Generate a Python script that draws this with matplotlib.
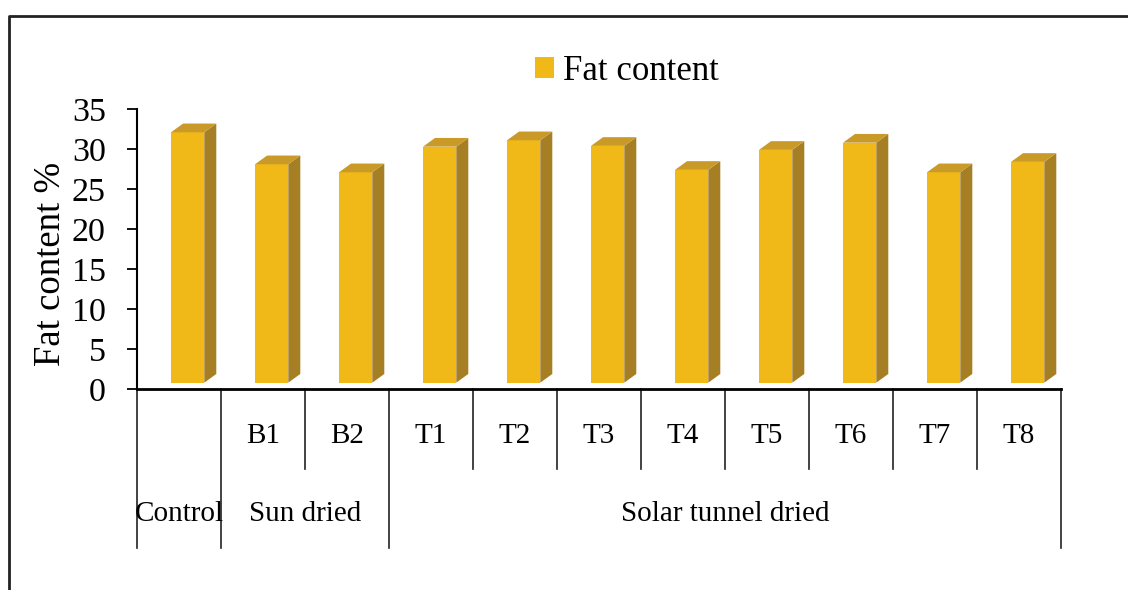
import numpy as np
import matplotlib.pyplot as plt
from matplotlib.patches import Polygon, Patch
from matplotlib.lines import Line2D

# fat content (%) per treatment
treatments = ['Control', 'B1', 'B2', 'T1', 'T2', 'T3', 'T4', 'T5', 'T6', 'T7', 'T8']
fat = [31.3, 27.3, 26.3, 29.5, 30.3, 29.6, 26.6, 29.1, 30.0, 26.3, 27.6]

# second row of the category axis: (label, first index, last index)
groups = [('Control', 0, 0), ('Sun dried', 1, 2), ('Solar tunnel dried', 3, 10)]
yticks = [0, 5, 10, 15, 20, 25, 30, 35]

plt.rcParams['font.family'] = ['Liberation Serif', 'DejaVu Serif']

front_c = '#F0B917'
side_c = '#A67E24'
top_c = '#C99A28'

fig = plt.figure(figsize=(11.28, 5.90), dpi=100)
ax = fig.add_axes([137 / 1128, 1 - 389 / 590, 924 / 1128, 280 / 590])

pos = np.arange(len(treatments))
width = 0.396     # front face width
shift = -0.095    # left edge of front face relative to category centre
lift = 0.79       # floor gap of the 3-D columns
dx, dy = 0.143, 1.09  # depth of the columns

bars = ax.bar(pos + shift, fat, width=width, bottom=lift, align='edge',
              color=front_c, zorder=3)
for b in bars:
    x0, x1 = b.get_x(), b.get_x() + b.get_width()
    y0, y1 = b.get_y(), b.get_y() + b.get_height()
    ax.add_patch(Polygon([(x1, y0), (x1 + dx, y0 + dy), (x1 + dx, y1 + dy), (x1, y1)],
                         closed=True, facecolor=side_c, edgecolor='none', zorder=3))
    ax.add_patch(Polygon([(x0, y1), (x1, y1), (x1 + dx, y1 + dy), (x0 + dx, y1 + dy)],
                         closed=True, facecolor=top_c, edgecolor='none', zorder=3))

ax.set_xlim(-0.5, len(treatments) - 0.5)
ax.set_ylim(0, 35)
ax.set_yticks(yticks)
ax.tick_params(axis='y', labelsize=24.5, length=7, width=1.3, pad=15.5, direction='out')
ax.set_xticks([])
for s in ['top', 'right']:
    ax.spines[s].set_visible(False)
ax.spines['left'].set_linewidth(1.5)
ax.spines['bottom'].set_linewidth(2)

ax.set_ylabel('Fat content %', fontsize=26.5)
ax.yaxis.set_label_coords(-0.075, 0.446)

# two-level category table under the axis
xtr = ax.get_xaxis_transform()
lw = 1.2
long_y, short_y = -0.568, -0.286
group_edges = {g[1] - 0.5 for g in groups} | {groups[-1][2] + 0.5}
for k in range(len(treatments) + 1):
    e = k - 0.5
    y_end = long_y if e in group_edges else short_y
    ax.plot([e, e], [0, y_end], color='#222222', lw=lw, transform=xtr, clip_on=False)

for i, name in enumerate(treatments):
    if i == 0:
        continue
    ax.text(i, -0.168, name, transform=xtr, ha='center', va='center', fontsize=21)

for name, a, b in groups:
    ax.text((a + b) / 2, -0.446, name, transform=xtr, ha='center', va='center', fontsize=21)

# legend
handle = Patch(facecolor=front_c, edgecolor='none')
fig.legend([handle], ['Fat content'], loc='center', bbox_to_anchor=(627 / 1128, 1 - 71 / 590),
           frameon=False, fontsize=25, handlelength=0.55, handleheight=0.55,
           handletextpad=0.25, borderpad=0.2)

# outer chart frame
fig.add_artist(Line2D([9 / 1128, 9 / 1128, 1.0], [0.0, 1 - 15.5 / 590, 1 - 15.5 / 590],
                      transform=fig.transFigure, color='#222222', lw=2))

fig.savefig('out.png', dpi=100)
